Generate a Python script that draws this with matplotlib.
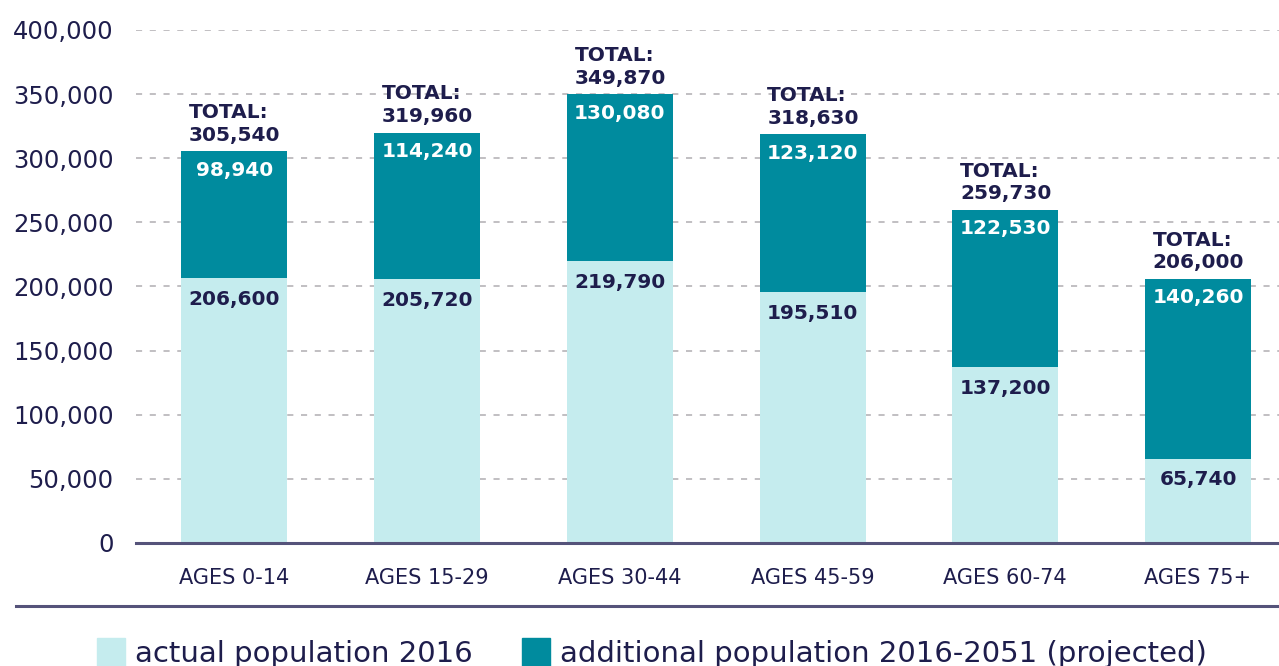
import numpy as np
import matplotlib.pyplot as plt
from matplotlib.patches import Rectangle
from matplotlib.lines import Line2D

plt.rcParams['font.family'] = ['DejaVu Sans']

# data
groups = ['AGES 0-14', 'AGES 15-29', 'AGES 30-44', 'AGES 45-59', 'AGES 60-74', 'AGES 75+']
actual_2016 = [206600, 205720, 219790, 195510, 137200, 65740]
additional = [98940, 114240, 130080, 123120, 122530, 140260]
totals = [305540, 319960, 349870, 318630, 259730, 206000]

light = '#c5ecee'
dark = '#008b9e'
navy = '#1e1d4c'
axcol = '#55537a'

fig = plt.figure(figsize=(12.79, 6.66), dpi=100)
ax = fig.add_axes([0.1063, 0.1847, 0.8937, 0.7703])

x = np.arange(len(groups))
w = 0.55
ax.bar(x, actual_2016, width=w, color=light, zorder=2)
ax.bar(x, additional, width=w, bottom=actual_2016, color=dark, zorder=2)

for i in range(len(groups)):
    ax.text(x[i], actual_2016[i] - 9000, f'{actual_2016[i]:,}', ha='center', va='top',
            fontsize=14.5, fontweight='bold', color=navy, zorder=3)
    ax.text(x[i], totals[i] - 7500, f'{additional[i]:,}', ha='center', va='top',
            fontsize=14.5, fontweight='bold', color='white', zorder=3)
    ax.text(x[i] - 0.235, totals[i] + 5000, f'TOTAL:\n{totals[i]:,}', ha='left', va='bottom',
            fontsize=14.5, fontweight='bold', color=navy, linespacing=1.25, zorder=3)

ax.set_ylim(0, 400000)
ax.set_xlim(-0.51, 5.42)
ax.set_yticks(np.arange(0, 400001, 50000))
ax.set_yticklabels([f'{v:,}' for v in range(0, 400001, 50000)])
ax.set_xticks(x)
ax.set_xticklabels(groups)
ax.tick_params(axis='y', length=0, pad=16, labelsize=17.5, labelcolor=navy)
ax.tick_params(axis='x', length=0, pad=18, labelsize=15, labelcolor=navy)
ax.grid(axis='y', color='#b0adb2', linestyle=(0, (4, 5)), linewidth=1.1, zorder=0)
for s in ['top', 'right', 'left']:
    ax.spines[s].set_visible(False)
ax.spines['bottom'].set_color(axcol)
ax.spines['bottom'].set_linewidth(2.2)
ax.spines['bottom'].set_zorder(4)

# separator line
fig.add_artist(Line2D([16 / 1279, 1.0], [1 - 606 / 666] * 2, color=axcol, linewidth=2.2))

# legend
fig.add_artist(Rectangle((97 / 1279, 0), 28 / 1279, 28 / 666, color=light,
                         transform=fig.transFigure))
fig.text(135 / 1279, 1 - 654 / 666, 'actual population 2016', fontsize=21, color=navy,
         va='center', ha='left')
fig.add_artist(Rectangle((522 / 1279, 0), 28 / 1279, 28 / 666, color=dark,
                         transform=fig.transFigure))
fig.text(560 / 1279, 1 - 654 / 666, 'additional population 2016-2051 (projected)', fontsize=21,
         color=navy, va='center', ha='left')

plt.savefig('out.png', dpi=100)
